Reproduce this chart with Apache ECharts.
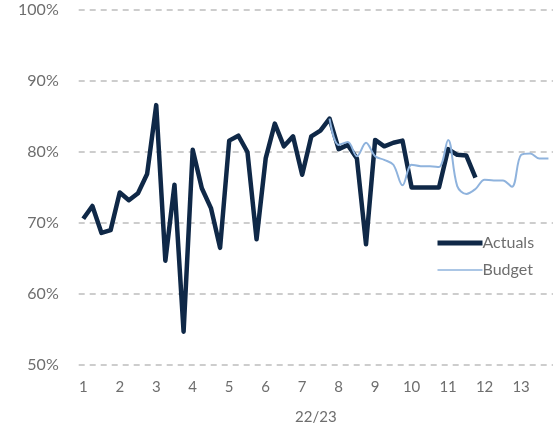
<!DOCTYPE html>
<html>
<head>
<meta charset="utf-8">
<script src="https://cdn.jsdelivr.net/npm/echarts@6/dist/echarts.min.js"></script>
<style>
html,body{margin:0;padding:0;background:#fff;}
#chart{width:553px;height:431px;}
</style>
</head>
<body>
<div id="chart"></div>
<script>
var weeks = [1,2,3,4,5,6,7,8,9,10,11,12,13,14,15,16,17,18,19,20,21,22,23,24,25,26,
             27,28,29,30,31,32,33,34,35,36,37,38,39,40,41,42,43,44,45,46,47,48,49,50,51,52];
var periodLabels = ['1','2','3','4','5','6','7','8','9','10','11','12','13'];
var actuals = [70.6,72.4,68.6,69.0,74.3,73.2,74.2,76.9,86.6,64.7,75.4,54.7,80.3,
               74.9,72.1,66.5,81.6,82.3,80.0,67.7,79.1,84.0,80.8,82.2,76.8,82.2,
               83.0,84.7,80.4,81.0,79.1,67.0,81.7,80.8,81.3,81.6,75.0,75.0,75.0,
               75.0,80.4,79.6,79.5,76.4,null,null,null,null,null,null,null,null];
var budget = [null,null,null,null,null,null,null,null,null,null,null,null,null,
              null,null,null,null,null,null,null,null,null,null,null,null,null,
              null,84.7,81.0,81.4,79.4,81.3,79.4,78.9,78.2,75.3,78.2,78.0,78.0,
              77.9,81.7,75.2,74.1,74.8,76.1,76.0,76.0,75.1,79.6,79.8,79.1,79.1];
var yTicks = {min:50, max:100, interval:10};

var chart = echarts.init(document.getElementById('chart'));
var txt = '#6e6e6e';
chart.setOption({
  animation:false,
  textStyle:{fontFamily:'Lato'},
  grid:{left:78.7, right:-2.5, top:10, bottom:66, containLabel:false},
  legend:{
    orient:'vertical', left:430, top:230, padding:5,
    itemWidth:45, itemHeight:14, itemGap:11,
    data:[
      {name:'Actuals', lineStyle:{width:5, color:'#0f2847'}},
      {name:'Budget', lineStyle:{width:1.5, color:'#8fb3dd'}}
    ],
    itemStyle:{opacity:0},
    textStyle:{color:txt, fontSize:16, fontFamily:'Lato', padding:[0,0,0,-5]}
  },
  xAxis:{
    type:'category', data:weeks, boundaryGap:true,
    axisLine:{show:false}, axisTick:{show:false},
    axisLabel:{
      interval:0, margin:15, color:txt, fontSize:15, fontFamily:'Lato',
      formatter:function(v, idx){ return idx % 4 === 0 ? periodLabels[idx/4] : ''; }
    },
    name:'22/23', nameLocation:'middle', nameGap:45,
    nameTextStyle:{color:txt, fontSize:15, fontFamily:'Lato'}
  },
  yAxis:{
    type:'value', min:yTicks.min, max:yTicks.max, interval:yTicks.interval,
    axisLine:{show:false}, axisTick:{show:false},
    axisLabel:{formatter:'{value}%', color:txt, fontSize:16, margin:20, fontFamily:'Lato'},
    splitLine:{lineStyle:{color:'#bdbdbd', width:1.5, type:[6,5]}}
  },
  series:[
    {name:'Actuals', type:'line', data:actuals, symbol:'none',
     lineStyle:{color:'#0f2847', width:4.5, join:'round'}, itemStyle:{color:'#0f2847'}, z:2},
    {name:'Budget', type:'line', data:budget, symbol:'none', smooth:0.35,
     lineStyle:{color:'#8fb3dd', width:2}, itemStyle:{color:'#8fb3dd'}, z:3}
  ]
});
</script>
</body>
</html>
